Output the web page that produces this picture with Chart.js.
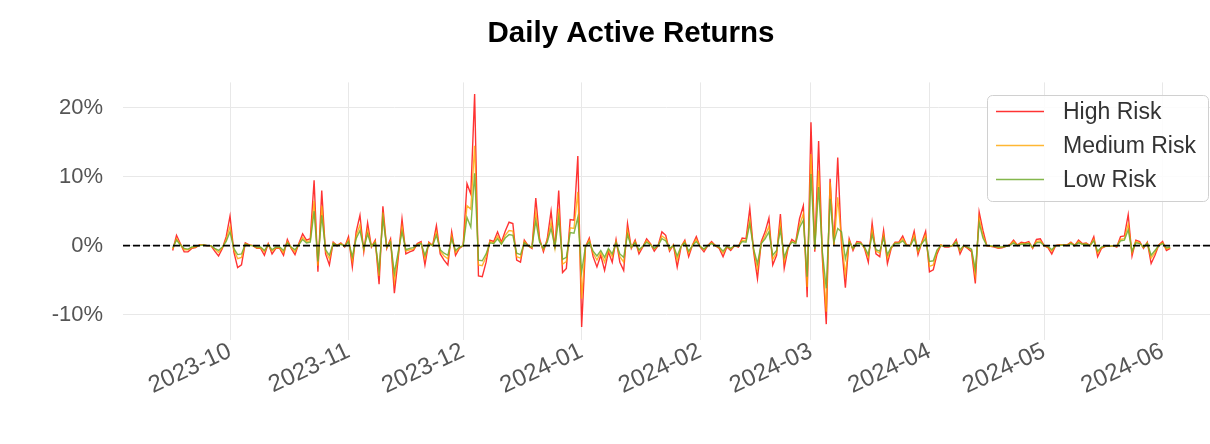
<!DOCTYPE html>
<html>
<head>
<meta charset="utf-8">
<script src="https://cdn.jsdelivr.net/npm/chart.js@4.4.0/dist/chart.umd.min.js"></script>
<style>
  html, body { margin: 0; padding: 0; background: #fff; }
</style>
</head>
<body>
<canvas id="returns-plot" width="1210" height="444"></canvas>
<script>
// one value per calendar day, starting at START_DATE
const START_DATE = '2023-09-16';

const seriesNames = ['High Risk', 'Medium Risk', 'Low Risk'];
const seriesColors = ['rgba(255, 0, 0, 0.8)', 'rgba(255, 165, 0, 0.8)', 'rgba(110, 170, 45, 0.85)'];

const highRisk = [
    -0.7, 1.5, 0.3, -0.9, -0.9, -0.4, -0.3, 0.1, 0.1, 0.0, 0.0, -0.8, -1.5, -0.4, 1.3,
    4.3, -0.9, -3.2, -2.8, 0.4, 0.1, 0.0, -0.4, -0.4, -1.4, 0.3, -1.2, -0.4, -0.4, -1.4, 0.9, -0.4, -1.3, 0.3, 1.7, 0.8, 1.0, 9.5, -3.8, 8.0, -1.2, -2.8, 0.5, 0.0, 0.4, -0.2,
    1.3, -3.1, 2.0, 4.4, -0.9, 3.3, -0.2, 0.8, -5.6, 5.7, -0.4, 1.0, -6.9, -1.9, 3.9, -1.2, -0.9, -0.7, 0.3, 0.6, -2.8, 0.5, 0.0, 2.9, -1.2, -2.1, -2.8, 2.0, -1.4, -0.4,
    0.0, 9.0, 7.5, 22.0, -4.4, -4.5, -2.4, 0.8, 0.6, 2.0, 0.5, 2.1, 3.4, 3.2, -2.1, -2.4, 0.8, 0.0, -0.4, 6.9, 1.0, -0.9, 1.0, 5.0, -0.4, 8.0, -3.9, -3.3, 3.8, 3.7, 13.0,
    -11.8, -0.2, 1.1, -1.6, -3.1, -1.4, -3.6, -0.9, -2.4, 0.9, -2.4, -3.6, 3.2, -0.4, 0.8, -1.2, -0.2, 1.0, 0.3, -0.8, 0.0, 2.0, 1.5, -0.8, 0.1, -3.1, -0.2, 0.8, -1.6, 0.1, 1.3,
    -0.2, -0.9, 0.0, 0.6, 0.0, -0.4, -1.6, -0.2, -0.7, 0.0, -0.2, 1.1, 1.0, 5.4, -0.9, -4.8, 0.6, 2.0, 4.0, -2.8, -1.4, 4.6, -3.3, -0.4, 0.9, 0.5, 3.9, 5.8, -7.5,
    17.9, -0.9, 15.2, -2.0, -11.4, 9.7, 0.0, 12.8, 0.0, -6.1, 1.0, -0.7, 0.6, 0.5, -0.4, -2.4, 3.3, -1.2, -1.6, 2.2, -2.6, -0.4, 0.5, 0.5, 1.4, 0.1, 0.0, 2.1, -1.3, 0.5, 2.1,
    -3.8, -3.5, -1.2, 0.1, -0.2, -0.2, 0.0, 0.9, -1.2, 0.0, -0.4, -0.9, -5.5, 4.9, 2.2, 0.0, -0.1, -0.2, -0.4, -0.3, -0.1, 0.1, 0.8, 0.1, 0.5, 0.4, 0.6, -0.4, 0.9, 1.0,
    0.0, -0.3, -1.2, 0.0, 0.1, 0.1, 0.1, 0.5, 0.0, 0.8, 0.3, 0.4, 0.0, 1.3, -1.6, -0.4, -0.1, -0.1, 0.0, -0.2, 1.3, 1.4, 4.5, -1.5, 0.8, 0.6, -0.4, 0.5, -2.6, -1.4, 0.1,
    0.6, -0.7, -0.4
];

const mediumRisk = [
    -0.5, 1.0, 0.2, -0.6, -0.6, -0.3, -0.2, 0.1, 0.1, 0.0, 0.0, -0.5, -1.0, -0.3, 0.9,
    2.8, -0.6, -1.9, -1.7, 0.3, 0.1, 0.0, -0.3, -0.3, -0.9, 0.2, -0.8, -0.3, -0.3, -1.0, 0.6, -0.3, -0.9, 0.2, 1.2, 0.6, 0.7, 6.5, -2.9, 5.8, -0.8, -1.9, 0.4, 0.0, 0.3, -0.1,
    0.9, -2.2, 1.4, 3.0, -0.6, 2.3, -0.1, 0.6, -4.4, 4.8, -0.3, 0.7, -5.2, -1.3, 2.7, -0.8, -0.6, -0.5, 0.2, 0.4, -1.9, 0.4, 0.0, 2.0, -0.8, -1.5, -1.9, 1.4, -1.0, -0.3,
    0.0, 5.8, 5.3, 14.5, -2.8, -2.9, -1.6, 0.6, 0.4, 1.4, 0.3, 1.5, 2.2, 2.1, -1.6, -1.8, 0.6, 0.0, -0.3, 4.8, 0.7, -0.6, 0.7, 3.4, -0.3, 5.4, -2.7, -2.3, 2.6, 2.5, 7.8,
    -7.7, -0.2, 0.8, -1.1, -2.1, -1.0, -2.4, -0.6, -1.6, 0.6, -1.6, -2.4, 2.2, -0.3, 0.6, -0.8, -0.1, 0.7, 0.2, -0.5, 0.0, 1.4, 1.0, -0.6, 0.1, -2.1, -0.1, 0.6, -1.1, 0.1, 0.9,
    -0.1, -0.6, 0.0, 0.4, 0.0, -0.3, -1.1, -0.1, -0.5, 0.0, -0.1, 0.8, 0.7, 3.8, -0.6, -3.4, 0.4, 1.4, 2.8, -2.0, -1.0, 3.2, -2.3, -0.3, 0.6, 0.4, 3.0, 4.6, -6.0,
    13.3, -0.6, 10.9, -1.4, -9.6, 9.2, 0.0, 7.0, 0.8, -4.2, 0.7, -0.5, 0.4, 0.4, -0.3, -1.7, 2.3, -0.8, -1.1, 1.5, -1.8, -0.3, 0.4, 0.4, 1.0, 0.1, 0.0, 1.5, -0.9, 0.4, 1.5,
    -3.0, -2.8, -0.8, 0.1, -0.1, -0.1, 0.0, 0.6, -0.8, 0.0, -0.3, -0.6, -4.3, 4.0, 1.5, 0.0, -0.1, -0.1, -0.3, -0.2, -0.1, 0.1, 0.6, 0.1, 0.3, 0.3, 0.4, -0.3, 0.6, 0.7,
    0.0, -0.2, -0.8, 0.0, 0.1, 0.1, 0.1, 0.4, 0.0, 0.6, 0.2, 0.3, 0.0, 0.9, -1.1, -0.3, -0.1, -0.1, 0.0, -0.1, 0.9, 1.0, 3.1, -1.0, 0.6, 0.4, -0.3, 0.4, -1.8, -1.0, 0.1,
    0.4, -0.5, -0.3
];

const lowRisk = [
    -0.3, 0.8, 0.1, -0.4, -0.5, -0.2, -0.1, 0.0, 0.1, 0.0, 0.0, -0.4, -0.7, -0.2, 0.6,
    2.0, -0.4, -1.3, -1.2, 0.2, 0.0, 0.0, -0.2, -0.2, -0.7, 0.1, -0.6, -0.2, -0.2, -0.7, 0.4, -0.2, -0.6, 0.1, 0.9, 0.4, 0.5, 5.0, -2.3, 4.4, -0.6, -1.4, 0.3, 0.0, 0.2, -0.1,
    0.6, -1.6, 1.0, 2.2, -0.4, 1.7, -0.1, 0.4, -3.6, 4.0, -0.2, 0.5, -4.0, -0.9, 2.0, -0.6, -0.4, -0.3, 0.1, 0.3, -1.4, 0.2, 0.0, 1.5, -0.6, -1.1, -1.4, 1.0, -0.7, -0.2,
    0.0, 4.1, 2.7, 10.5, -2.1, -2.2, -1.2, 0.4, 0.3, 1.0, 0.2, 1.1, 1.6, 1.5, -1.1, -1.3, 0.4, 0.0, -0.2, 3.6, 0.5, -0.4, 0.5, 2.5, -0.2, 4.0, -2.0, -1.7, 1.9, 1.8, 4.1,
    -3.8, -0.1, 0.5, -0.8, -1.5, -0.7, -1.7, -0.4, -1.2, 0.4, -1.2, -1.7, 1.6, -0.2, 0.4, -0.6, -0.1, 0.5, 0.1, -0.4, 0.0, 1.0, 0.7, -0.4, 0.0, -1.5, -0.1, 0.4, -0.8, 0.0, 0.6,
    -0.1, -0.5, 0.0, 0.3, 0.0, -0.2, -0.8, -0.1, -0.4, 0.0, -0.1, 0.6, 0.5, 3.2, -0.5, -2.6, 0.3, 1.0, 2.0, -1.4, -0.7, 2.3, -1.7, -0.2, 0.5, 0.3, 2.6, 3.7, -4.5,
    10.4, -0.5, 8.5, -1.0, -6.2, 6.8, 0.5, 2.5, 2.0, -1.9, 0.5, -0.4, 0.3, 0.3, -0.2, -1.3, 1.6, -0.6, -0.8, 1.1, -1.3, -0.2, 0.3, 0.3, 0.7, 0.0, 0.0, 1.0, -0.6, 0.3, 1.0,
    -2.3, -2.2, -0.6, 0.0, -0.1, -0.1, 0.0, 0.5, -0.6, 0.0, -0.2, -0.5, -3.5, 3.3, 1.1, 0.0, 0.0, -0.1, -0.2, -0.2, -0.1, 0.0, 0.4, 0.0, 0.2, 0.2, 0.3, -0.2, 0.4, 0.5,
    0.0, -0.1, -0.6, 0.0, 0.0, 0.1, 0.0, 0.3, 0.0, 0.4, 0.2, 0.2, 0.0, 0.7, -0.8, -0.2, 0.0, -0.1, 0.0, -0.1, 0.7, 0.8, 2.3, -0.8, 0.4, 0.3, -0.2, 0.3, -1.4, -0.7, 0.0,
    0.3, -0.3, -0.2
];

const monthTicks = ['2023-10-01', '2023-11-01', '2023-12-01', '2024-01-01', '2024-02-01',
    '2024-03-01', '2024-04-01', '2024-05-01', '2024-06-01'];
const monthLabels = ['2023-10', '2023-11', '2023-12', '2024-01', '2024-02',
    '2024-03', '2024-04', '2024-05', '2024-06'];
const yTicks = [-10, 0, 10, 20];

const FONT = "'Liberation Sans', Arial, sans-serif";

function dayNum(dateStr) {
    const parts = dateStr.split('-').map(Number);
    return Date.UTC(parts[0], parts[1] - 1, parts[2]) / 86400000;
}

function toPoints(values) {
    const start = dayNum(START_DATE);
    return values.map((v, i) => ({x: start + i, y: v}));
}

const zeroLine = {
    id: 'zeroLine',
    afterDatasetsDraw(chart) {
        const ctx = chart.ctx;
        const area = chart.chartArea;
        const y = chart.scales.y.getPixelForValue(0);
        ctx.save();
        ctx.strokeStyle = '#000';
        ctx.lineWidth = 1.8;
        ctx.setLineDash([7, 3]);
        ctx.beginPath();
        ctx.moveTo(area.left, y);
        ctx.lineTo(area.right, y);
        ctx.stroke();
        ctx.restore();
    }
};

// legend drawn as a framed box in the upper right corner of the plot
const boxLegend = {
    id: 'boxLegend',
    afterDraw(chart) {
        const ctx = chart.ctx;
        const left = 987, top = 95, width = 221, height = 106, r = 5;
        ctx.save();
        ctx.fillStyle = 'rgba(255, 255, 255, 0.85)';
        ctx.strokeStyle = '#d0d0d0';
        ctx.lineWidth = 1;
        ctx.beginPath();
        ctx.roundRect(left + 0.5, top + 0.5, width, height, r);
        ctx.fill();
        ctx.stroke();

        ctx.font = '23px ' + FONT;
        ctx.textBaseline = 'middle';
        ctx.textAlign = 'left';
        chart.data.datasets.forEach((ds, i) => {
            const y = 111.5 + i * 34;
            ctx.strokeStyle = ds.borderColor;
            ctx.lineWidth = 1.5;
            ctx.beginPath();
            ctx.moveTo(996, y);
            ctx.lineTo(1044, y);
            ctx.stroke();
            ctx.fillStyle = '#333';
            ctx.fillText(ds.label, 1063, y + 1);
        });
        ctx.restore();
    }
};

const seriesValues = [highRisk, mediumRisk, lowRisk];

const datasets = seriesNames.map((name, i) => ({
    label: name,
    data: toPoints(seriesValues[i]),
    borderColor: seriesColors[i],
    borderWidth: 1.4,
    pointRadius: 0,
    tension: 0,
    fill: false,
    order: seriesNames.length - i
}));

const config = {
    type: 'line',
    data: {datasets: datasets},
    options: {
        responsive: false,
        animation: false,
        devicePixelRatio: 1,
        layout: {padding: {left: 52, right: 0, top: 0, bottom: 0}},
        plugins: {
            legend: {display: false},
            tooltip: {enabled: false},
            title: {
                display: true,
                text: 'Daily Active Returns',
                color: '#000',
                font: {family: FONT, size: 29.5, weight: 'bold'},
                padding: {top: 16, bottom: 31}
            }
        },
        scales: {
            x: {
                type: 'linear',
                min: dayNum('2023-09-03'),
                max: dayNum('2024-06-13') + 0.4,
                afterBuildTicks: scale => {
                    scale.ticks = monthTicks.map(d => ({value: dayNum(d)}));
                },
                afterFit: scale => { scale.height = 104; },
                ticks: {
                    autoSkip: false,
                    minRotation: 25,
                    maxRotation: 25,
                    padding: -3,
                    color: '#555',
                    font: {family: FONT, size: 24},
                    callback: (value, index) => monthLabels[index]
                },
                grid: {color: '#e8e8e8', lineWidth: 1, drawTicks: false},
                border: {display: false}
            },
            y: {
                min: -13.7,
                max: 23.7,
                afterBuildTicks: scale => {
                    scale.ticks = yTicks.map(v => ({value: v}));
                },
                afterFit: scale => { scale.width = 71; },
                ticks: {
                    padding: 20,
                    color: '#555',
                    font: {family: FONT, size: 22},
                    callback: value => value + '%'
                },
                grid: {color: '#e8e8e8', lineWidth: 1, drawTicks: false},
                border: {display: false}
            }
        }
    },
    plugins: [zeroLine, boxLegend]
};

new Chart(document.getElementById('returns-plot'), config);
</script>
</body>
</html>
